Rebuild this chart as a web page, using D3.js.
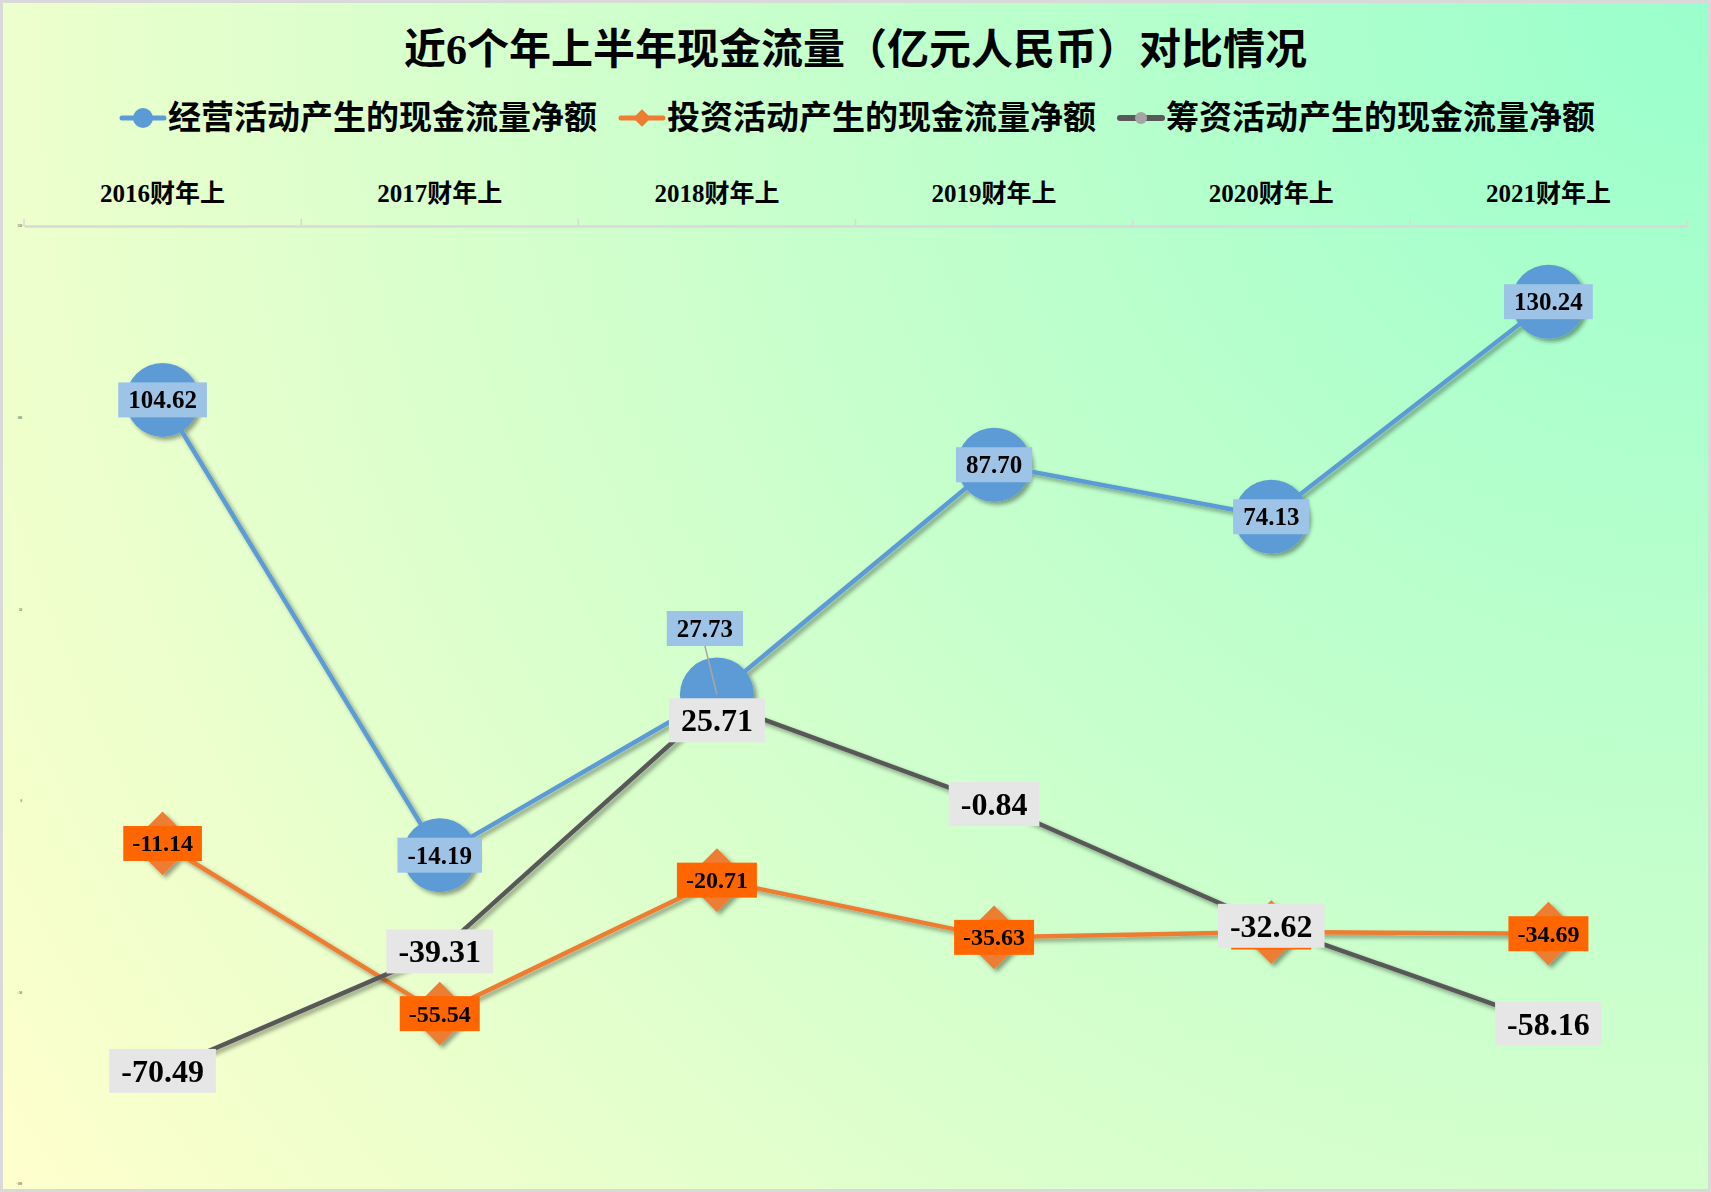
<!DOCTYPE html>
<html>
<head>
<meta charset="utf-8">
<script src="https://cdn.jsdelivr.net/npm/d3@7/dist/d3.min.js"></script>
<style>
  html, body { margin: 0; padding: 0; background: #fff; }
  svg { display: block; }
</style>
</head>
<body>
<svg id="chart" width="1711" height="1192"></svg>
<script>
// ---------------- data ----------------
const title = "近6个年上半年现金流量（亿元人民币）对比情况";
const categories = ["2016财年上", "2017财年上", "2018财年上", "2019财年上", "2020财年上", "2021财年上"];
const seriesNames = ["经营活动产生的现金流量净额", "投资活动产生的现金流量净额", "筹资活动产生的现金流量净额"];
const operating = [104.62, -14.19, 27.73, 87.70, 74.13, 130.24];
const investing = [-11.14, -55.54, -20.71, -35.63, -34.25, -34.69];
const financing = [-70.49, -39.31, 25.71, -0.84, -32.62, -58.16];
const yTicks = [150, 100, 50, 0, -50, -100];

// ---------------- layout / style ----------------
const W = 1711, H = 1192;
const plot = { left: 24, right: 1687, top: 226, bottom: 1184 };
const serif = "'Liberation Serif', 'Times New Roman', 'Noto Sans CJK SC', serif";
const cjk = "'Liberation Serif', 'Noto Sans CJK SC', sans-serif";

const styles = [
  { color: "#5b9bd5", marker: "circle", size: 37, labelFill: "#9dc3e6", fs: 25, boxH: 35, padX: 10 },
  { color: "#ed7d31", marker: "diamond", size: 36, labelFill: "#ff6600", fs: 24, boxH: 35, padX: 9 },
  { color: "#595959", marker: "none", size: 0, labelFill: "#e7e6e6", fs: 32, boxH: 44, padX: 12 }
];
// special label placements (series index, point index, dx, dy, leader, covered = text hidden under another label in the original)
const labelOffsets = [
  { s: 0, i: 2, dx: -12, dy: -66, leader: true },
  { s: 2, i: 2, dx: 0, dy: 18, leader: false },
  { s: 1, i: 4, dx: 0, dy: 0, leader: false, covered: true }
];

const svg = d3.select("#chart");
const defs = svg.append("defs");

const grad = defs.append("radialGradient")
  .attr("id", "bg").attr("gradientUnits", "userSpaceOnUse")
  .attr("cx", W).attr("cy", 0).attr("r", 2080);
grad.append("stop").attr("offset", "0").attr("stop-color", "#99ffcc");
grad.append("stop").attr("offset", "1").attr("stop-color", "#ffffcc");

const sh = defs.append("filter").attr("id", "shadow")
  .attr("x", "-20%").attr("y", "-20%").attr("width", "150%").attr("height", "150%");
sh.append("feDropShadow").attr("dx", 3).attr("dy", 3).attr("stdDeviation", 2.2)
  .attr("flood-color", "#000").attr("flood-opacity", 0.38);

svg.append("rect").attr("x", 0).attr("y", 0).attr("width", W).attr("height", H).attr("fill", "url(#bg)");
svg.append("rect").attr("x", 1.5).attr("y", 1.5).attr("width", W - 3).attr("height", H - 3)
  .attr("fill", "none").attr("stroke", "#d9d9d9").attr("stroke-width", 3);

// ---------------- title ----------------
svg.append("text")
  .attr("x", W / 2).attr("y", 50)
  .attr("text-anchor", "middle").attr("dominant-baseline", "central")
  .attr("font-family", cjk).attr("font-weight", "bold").attr("font-size", 42)
  .attr("fill", "#000").text(title);

// ---------------- legend ----------------
const legend = svg.append("g");
const legendY = 118;
const textOff = 46;
const items = legend.selectAll("g.item").data(seriesNames).join("g").attr("class", "item");
items.append("text")
  .attr("x", textOff).attr("y", legendY)
  .attr("dominant-baseline", "central")
  .attr("font-family", cjk).attr("font-weight", "bold").attr("font-size", 33)
  .attr("fill", "#000").text(d => d);
items.each(function (d, i) {
  const g = d3.select(this);
  const st = styles[i];
  g.insert("line", "text").attr("x1", 0).attr("x2", 42).attr("y1", legendY).attr("y2", legendY)
    .attr("stroke", st.color).attr("stroke-width", i === 2 ? 6 : 5).attr("stroke-linecap", "round");
  if (i === 0) g.insert("circle", "text").attr("cx", 21).attr("cy", legendY).attr("r", 10).attr("fill", st.color);
  if (i === 1) g.insert("path", "text").attr("d", d3.symbol(d3.symbolDiamond2, 2 * 10 * 10)())
    .attr("transform", `translate(21,${legendY})`).attr("fill", st.color);
  if (i === 2) g.insert("circle", "text").attr("cx", 21).attr("cy", legendY).attr("r", 6).attr("fill", "#a5a5a5");
});
const widths = [];
items.each(function () { widths.push(textOff + this.querySelector("text").getComputedTextLength()); });
const gap = 24;
const total = d3.sum(widths) + gap * (widths.length - 1);
let lx = W / 2 + 3 - total / 2;
items.attr("transform", (d, i) => { const t = `translate(${lx},0)`; lx += widths[i] + gap; return t; });

// ---------------- scales ----------------
const x = d3.scaleBand().domain(categories).range([plot.left, plot.right]).padding(0);
const y = d3.scaleLinear().domain([-100, 150]).range([plot.bottom, plot.top]);
const cx = c => x(c) + x.bandwidth() / 2;

// ---------------- category axis (top) ----------------
const xAxis = svg.append("g").attr("transform", `translate(0,${plot.top})`)
  .call(d3.axisTop(x).tickSize(0).tickPadding(33));
xAxis.select(".domain").attr("stroke", "#d9d9d9").attr("stroke-width", 2.5);
xAxis.selectAll(".tick text")
  .attr("font-family", cjk).attr("font-weight", "bold").attr("font-size", 25)
  .attr("fill", "#000").attr("dominant-baseline", "central").attr("dy", 0);
const boundaries = categories.map(c => x(c)).concat([plot.right]);
svg.append("g").selectAll("line").data(boundaries).join("line")
  .attr("x1", d => d).attr("x2", d => d).attr("y1", plot.top - 7).attr("y2", plot.top)
  .attr("stroke", "#d9d9d9").attr("stroke-width", 1.5);

// ---------------- value axis (tiny labels) ----------------
const yAxis = svg.append("g").attr("transform", `translate(22,0)`)
  .call(d3.axisLeft(y).tickValues(yTicks).tickSize(0).tickPadding(0));
yAxis.select(".domain").remove();
yAxis.selectAll(".tick text").attr("font-size", 3).attr("font-family", serif).attr("fill", "#000");

// ---------------- series ----------------
const allSeries = [operating, investing, financing];
const line = d3.line().x((d, i) => cx(categories[i])).y(d => y(d));

allSeries.forEach((vals, s) => {
  const st = styles[s];
  const g = svg.append("g").attr("filter", "url(#shadow)");
  g.append("path").datum(vals).attr("d", line)
    .attr("fill", "none").attr("stroke", st.color).attr("stroke-width", 4.5)
    .attr("stroke-linejoin", "round");
  if (st.marker === "circle") {
    g.selectAll("circle").data(vals).join("circle")
      .attr("cx", (d, i) => cx(categories[i])).attr("cy", d => y(d)).attr("r", st.size)
      .attr("fill", st.color);
  } else if (st.marker === "diamond") {
    g.selectAll("path.m").data(vals).join("path").attr("class", "m")
      .attr("d", d3.symbol(d3.symbolDiamond2, 2 * st.size * st.size)())
      .attr("transform", (d, i) => `translate(${cx(categories[i])},${y(d)})`)
      .attr("fill", st.color);
  }
});

// ---------------- data labels ----------------
const labelLayer = svg.append("g");
allSeries.forEach((vals, s) => {
  const st = styles[s];
  vals.forEach((v, i) => {
    const px = cx(categories[i]), py = y(v);
    const off = labelOffsets.find(o => o.s === s && o.i === i) || { dx: 0, dy: 0, leader: false };
    const lxp = px + off.dx, lyp = py + off.dy;
    const g = labelLayer.append("g");
    const rect = g.append("rect").attr("fill", st.labelFill);
    const t = g.append("text")
      .attr("x", lxp).attr("y", lyp).attr("text-anchor", "middle").attr("dominant-baseline", "central")
      .attr("font-family", serif).attr("font-weight", "bold").attr("font-size", st.fs)
      .attr("fill", "#000").text(v.toFixed(2));
    const tw = t.node().getComputedTextLength();
    const bw = tw + 2 * st.padX;
    rect.attr("x", lxp - bw / 2).attr("y", lyp - st.boxH / 2).attr("width", bw).attr("height", st.boxH);
    if (off.covered) t.remove();
    if (off.leader) {
      g.insert("line", "rect")
        .attr("x1", lxp).attr("y1", lyp + st.boxH / 2).attr("x2", px).attr("y2", py)
        .attr("stroke", "#a6a6a6").attr("stroke-width", 1.5);
    }
  });
});
</script>
</body>
</html>
